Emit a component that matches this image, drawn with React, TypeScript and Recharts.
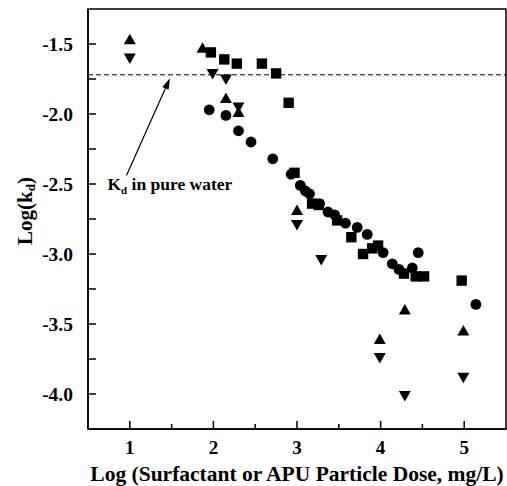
import React from "react";
import {
  ScatterChart,
  Scatter,
  XAxis,
  YAxis,
  ReferenceLine,
  ReferenceArea,
} from "recharts";

// [log dose, log kd]
const squares: [number, number][] = [
  [1.97, -1.56], [2.13, -1.61], [2.28, -1.64], [2.58, -1.64], [2.75, -1.71],
  [2.9, -1.92], [2.97, -2.42], [3.18, -2.64], [3.26, -2.65], [3.48, -2.76],
  [3.65, -2.88], [3.79, -3.0], [3.9, -2.96], [3.97, -2.94], [4.28, -3.14],
  [4.42, -3.16], [4.52, -3.16], [4.97, -3.19],
];
const circles: [number, number][] = [
  [1.95, -1.97], [2.15, -2.01], [2.3, -2.12], [2.45, -2.2], [2.71, -2.32],
  [2.93, -2.43], [3.04, -2.51], [3.1, -2.55], [3.15, -2.57], [3.27, -2.64],
  [3.37, -2.7], [3.45, -2.72], [3.58, -2.78], [3.72, -2.81], [3.84, -2.86],
  [4.03, -2.99], [4.14, -3.07], [4.22, -3.11], [4.38, -3.1], [4.45, -2.99],
  [5.14, -3.36],
];
const upTriangles: [number, number][] = [
  [1.0, -1.47], [1.87, -1.53], [2.15, -1.89], [2.3, -1.99], [3.0, -2.69],
  [3.99, -3.61], [4.29, -3.4], [4.99, -3.55],
];
const downTriangles: [number, number][] = [
  [1.0, -1.6], [1.99, -1.71], [2.15, -1.75], [2.3, -1.95], [3.0, -2.79],
  [3.29, -3.04], [3.99, -3.74], [4.29, -4.01], [4.99, -3.88],
];

const pureWaterKd = -1.72;
const arrowFrom = { x: 0.96, y: -2.44 };
const arrowTo = { x: 1.48, y: -1.745 };

const xTicks = [1, 1.5, 2, 2.5, 3, 3.5, 4, 4.5, 5];
const yTicks = [-4.0, -3.75, -3.5, -3.25, -3.0, -2.75, -2.5, -2.25, -2.0, -1.75, -1.5];

const toPts = (arr: [number, number][]) => arr.map(([x, y]) => ({ x, y }));

const FONT = "'Liberation Serif', 'Times New Roman', serif";
const isWhole = (v: number, step: number) =>
  Math.abs(v / step - Math.round(v / step)) < 1e-6;

const Square = (p: any) => (
  <rect x={p.cx - 5.2} y={p.cy - 5.2} width={10.4} height={10.4} fill="#000" />
);
const Dot = (p: any) => <circle cx={p.cx} cy={p.cy} r={5.4} fill="#000" />;
const Up = (p: any) => (
  <polygon
    points={`${p.cx},${p.cy - 6} ${p.cx - 6},${p.cy + 4.5} ${p.cx + 6},${p.cy + 4.5}`}
    fill="#000"
  />
);
const Down = (p: any) => (
  <polygon
    points={`${p.cx},${p.cy + 6} ${p.cx - 6},${p.cy - 4.5} ${p.cx + 6},${p.cy - 4.5}`}
    fill="#000"
  />
);

const Arrow = (p: any) => {
  const { x1, y1, x2, y2 } = p;
  const ang = Math.atan2(y2 - y1, x2 - x1);
  const len = 11;
  const w = 3.5;
  const bx = x2 - len * Math.cos(ang);
  const by = y2 - len * Math.sin(ang);
  const nx = -Math.sin(ang) * w;
  const ny = Math.cos(ang) * w;
  return (
    <g>
      <line x1={x1} y1={y1} x2={bx} y2={by} stroke="#000" strokeWidth={1.2} />
      <polygon
        points={`${x2},${y2} ${bx + nx},${by + ny} ${bx - nx},${by - ny}`}
        fill="#000"
      />
      <text
        x={x1 - 19}
        y={y1 + 14}
        fontFamily={FONT}
        fontWeight="bold"
        fontSize={17.5}
        fill="#000"
      >
        K
        <tspan fontSize={11} dy={4}>d</tspan>
        <tspan dy={-4}> in pure water</tspan>
      </text>
    </g>
  );
};

// draws inward tick marks plus labels on the major ones
const XTick = (p: any) => {
  const v = p.payload.value;
  const major = isWhole(v, 1);
  return (
    <g>
      <line
        x1={p.x}
        x2={p.x}
        y1={p.y}
        y2={p.y - (major ? 8 : 5)}
        stroke="#000"
        strokeWidth={1.5}
      />
      {major && (
        <text
          x={p.x}
          y={p.y + 25}
          textAnchor="middle"
          fontFamily={FONT}
          fontWeight="bold"
          fontSize={19}
          fill="#000"
        >
          {v}
        </text>
      )}
    </g>
  );
};

const YTick = (p: any) => {
  const v = p.payload.value;
  const major = isWhole(v, 0.5);
  return (
    <g>
      <line
        x1={p.x}
        x2={p.x + 8}
        y1={p.y}
        y2={p.y}
        stroke="#000"
        strokeWidth={1.5}
      />
      {major && (
        <text
          x={p.x - 15}
          y={p.y}
          dy="0.35em"
          textAnchor="end"
          fontFamily={FONT}
          fontWeight="bold"
          fontSize={19.5}
          fill="#000"
        >
          {v.toFixed(1)}
        </text>
      )}
    </g>
  );
};

const YLabel = (p: any) => {
  const vb = p.viewBox;
  const cx = 25;
  const cy = vb.y + vb.height / 2 - 8;
  return (
    <text
      x={cx}
      y={cy}
      transform={`rotate(-90, ${cx}, ${cy})`}
      textAnchor="middle"
      dominantBaseline="central"
      fontFamily={FONT}
      fontWeight="bold"
      fontSize={21}
      fill="#000"
    >
      Log(k
      <tspan fontSize={13} dy={5}>d</tspan>
      <tspan dy={-5}>)</tspan>
    </text>
  );
};

export default function App() {
  return (
    <div style={{ position: "absolute", left: 0, top: 0, background: "#fff" }}>
      <ScatterChart
        width={507}
        height={486}
        margin={{ top: 9, right: 1, left: 0, bottom: 0 }}
      >
        <XAxis
          type="number"
          dataKey="x"
          domain={[0.5, 5.5]}
          ticks={xTicks}
          interval={0}
          tickSize={0}
          tickMargin={0}
          tick={<XTick />}
          tickLine={false}
          height={57}
          axisLine={{ stroke: "#000", strokeWidth: 1.5 }}
          allowDataOverflow
          label={{
            value: "Log (Surfactant or APU Particle Dose, mg/L)",
            position: "insideBottom",
            offset: 5,
            style: {
              fontFamily: FONT,
              fontWeight: "bold",
              fontSize: 21.5,
              fill: "#000",
            },
          }}
        />
        <YAxis
          type="number"
          dataKey="y"
          domain={[-4.25, -1.25]}
          ticks={yTicks}
          interval={0}
          tickSize={0}
          tickMargin={0}
          tick={<YTick />}
          tickLine={false}
          width={88}
          axisLine={{ stroke: "#000", strokeWidth: 1.5 }}
          allowDataOverflow
          label={<YLabel />}
        />
        <ReferenceArea
          x1={0.5}
          x2={5.5}
          y1={-4.25}
          y2={-1.25}
          fill="none"
          stroke="#000"
          strokeWidth={1.5}
          fillOpacity={0}
        />
        <ReferenceLine
          y={pureWaterKd}
          stroke="#000"
          strokeWidth={1}
          strokeDasharray="5 3"
        />
        <ReferenceLine
          segment={[arrowFrom, arrowTo]}
          stroke="#000"
          shape={<Arrow />}
        />
        <Scatter data={toPts(squares)} shape={<Square />} isAnimationActive={false} />
        <Scatter data={toPts(circles)} shape={<Dot />} isAnimationActive={false} />
        <Scatter data={toPts(upTriangles)} shape={<Up />} isAnimationActive={false} />
        <Scatter data={toPts(downTriangles)} shape={<Down />} isAnimationActive={false} />
      </ScatterChart>
    </div>
  );
}
